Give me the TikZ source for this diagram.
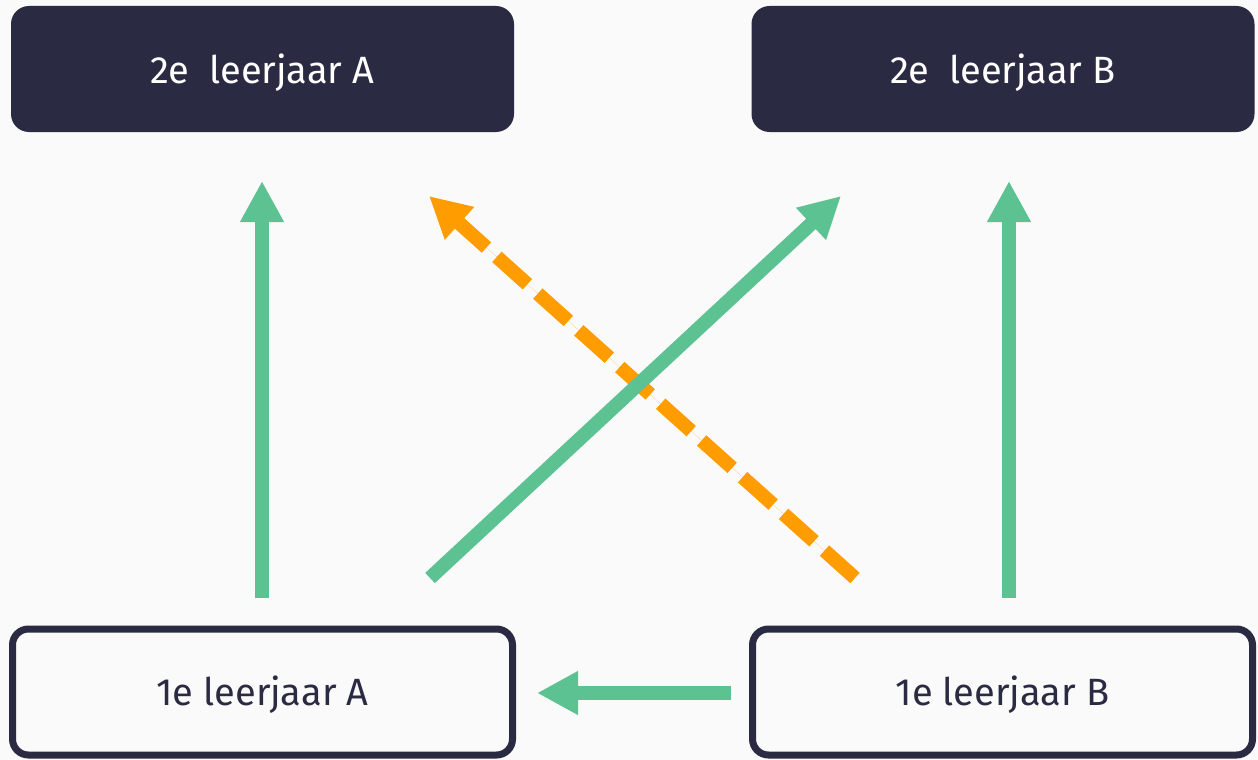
\documentclass[tikz,border=0pt]{standalone}
\usepackage{fontspec}
\setmainfont{Fira Sans}
\usetikzlibrary{arrows.meta}
\definecolor{navy}{HTML}{2A2A42}
\definecolor{bggray}{HTML}{FAFAFA}
\definecolor{mint}{HTML}{5DC291}
\definecolor{amber}{HTML}{FF9D00}
\tikzset{
  topbox/.style={fill=navy, rounded corners=18pt, minimum width=503pt, minimum height=126pt,
    text=white, font=\fontsize{38}{46}\selectfont, inner sep=0pt, outer sep=0pt,
    text height=28pt, text depth=0pt},
  botbox/.style={draw=navy, line width=7pt, fill=bggray, rounded corners=16pt, minimum width=500pt, minimum height=126pt,
    text=navy, font=\fontsize{38}{46}\selectfont, inner sep=0pt, text height=27pt, text depth=0pt},
  greenarrow/.style={draw=mint, line width=14pt, -{Triangle[length=41pt,width=41pt]}, fill=mint},
  orangearrow/.style={draw=amber, line width=14pt, dash pattern=on 41pt off 14pt, -{Triangle[length=41pt,width=41pt]}, fill=amber}
}
\begin{document}
\begin{tikzpicture}[x=1pt,y=-1pt]
\fill[bggray] (0,0) rectangle (1258,760);
\useasboundingbox (0,0) rectangle (1258,760);
\node[topbox] (a2) at (262.5,69) {2e\ \ leerjaar A};
\node[topbox] (b2) at (1003,69) {2e\ \ leerjaar B};
\node[botbox] (a1) at (262.5,692) {1e leerjaar A};
\node[botbox] (b1) at (1002.5,692) {1e leerjaar B};
\coordinate (gs) at (430,578);
\coordinate (ge) at (841,196);
\coordinate (os) at (855,578);
\coordinate (oe) at (429,196);
\draw[greenarrow, shorten <=27.5pt, shorten >=49pt] ([xshift=-0.5pt]a1.north) -- ([xshift=-0.5pt]a2.south);
\draw[greenarrow, shorten <=27.5pt, shorten >=49pt] ([xshift=6.5pt]b1.north) -- ([xshift=6pt]b2.south);
\draw[orangearrow] (os) -- (oe);
\draw[greenarrow] (gs) -- (ge);
\draw[greenarrow, shorten <=18pt, shorten >=21pt] ([yshift=-1pt]b1.west) -- ([yshift=-1pt]a1.east);
\end{tikzpicture}
\end{document}
